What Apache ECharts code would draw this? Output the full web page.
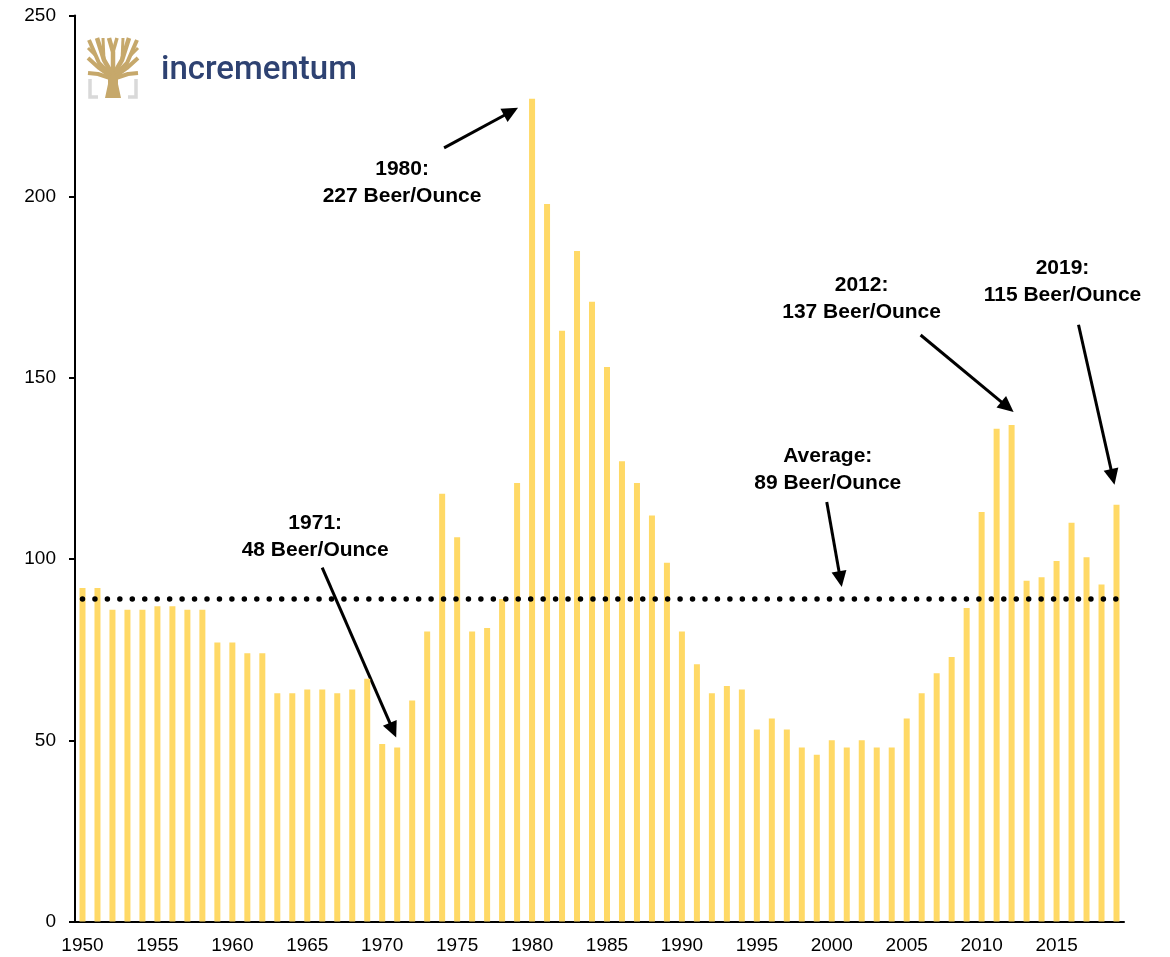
<!DOCTYPE html>
<html>
<head>
<meta charset="utf-8">
<script src="https://cdn.jsdelivr.net/npm/echarts@6/dist/echarts.min.js"></script>
<style>
  html, body { margin: 0; padding: 0; background: #ffffff; }
  #chart { width: 1170px; height: 957px; }
</style>
</head>
<body>
<div id="chart"></div>
<script>
// Beer/gold ratio: how many beers one ounce of gold buys, 1950-2019
const years = [
  '1950','1951','1952','1953','1954','1955','1956','1957','1958','1959',
  '1960','1961','1962','1963','1964','1965','1966','1967','1968','1969',
  '1970','1971','1972','1973','1974','1975','1976','1977','1978','1979',
  '1980','1981','1982','1983','1984','1985','1986','1987','1988','1989',
  '1990','1991','1992','1993','1994','1995','1996','1997','1998','1999',
  '2000','2001','2002','2003','2004','2005','2006','2007','2008','2009',
  '2010','2011','2012','2013','2014','2015','2016','2017','2018','2019'
];
const beerPerOunce = [
  92, 92, 86, 86, 86, 87, 87, 86, 86, 77,
  77, 74, 74, 63, 63, 64, 64, 63, 64, 67,
  49, 48, 61, 80, 118, 106, 80, 81, 89, 121,
  227, 198, 163, 185, 171, 153, 127, 121, 112, 99,
  80, 71, 63, 65, 64, 53, 56, 53, 48, 46,
  50, 48, 50, 48, 48, 56, 63, 68.5, 73, 86.5,
  113, 136, 137, 94, 95, 99.5, 110, 100.5, 93, 115
];
const average = 89;
const yTicks = [0, 50, 100, 150, 200, 250];

// Callouts: which point they refer to and what they say
const noteYears  = ['1980', '1971', '2001', '2012', '2019'];
const noteValues = [227, 48, average, 137, 115];
const noteTexts  = [
  '1980:\n227 Beer/Ounce',
  '1971:\n48 Beer/Ounce',
  'Average:\n89 Beer/Ounce',
  '2012:\n137 Beer/Ounce',
  '2019:\n115 Beer/Ounce'
];
// Offsets (px) from the referenced point: text centre, arrow tail, arrow tip
const noteLayout = [
  { text: [-130, 84],    tail: [-88, 49],    tip: [-14, 9] },
  { text: [-82, -211],   tail: [-75, -180],  tip: [-1, -10] },
  { text: [-19, -129],   tail: [-20, -97],   tip: [-5, -12] },
  { text: [-150, -126],  tail: [-91, -90],   tip: [2, -13] },
  { text: [-54, -223],   tail: [-38, -180],  tip: [-2, -20] }
];

const FONT = '"Liberation Sans", Arial, Helvetica, sans-serif';
const chart = echarts.init(document.getElementById('chart'), null, { renderer: 'canvas' });

chart.setOption({
  animation: false,
  backgroundColor: '#ffffff',
  grid: { left: 75, right: 46, top: 15.5, bottom: 35.5, containLabel: false },
  xAxis: {
    type: 'category',
    data: years,
    boundaryGap: true,
    axisLine: { show: true, lineStyle: { color: '#000000', width: 2 } },
    axisTick: { show: false },
    axisLabel: {
      interval: (i) => i % 5 === 0,
      color: '#000000',
      fontFamily: FONT,
      fontSize: 19,
      margin: 15
    },
    splitLine: { show: false }
  },
  yAxis: {
    type: 'value',
    min: yTicks[0],
    max: yTicks[yTicks.length - 1],
    interval: yTicks[1] - yTicks[0],
    axisLine: { show: true, lineStyle: { color: '#000000', width: 2 } },
    axisTick: { show: true, inside: false, length: 6, lineStyle: { color: '#000000', width: 2 } },
    axisLabel: { color: '#000000', fontFamily: FONT, fontSize: 19, margin: 19 },
    splitLine: { show: false }
  },
  series: [{
    type: 'bar',
    data: beerPerOunce,
    barWidth: 6,
    itemStyle: { color: '#FFD966' },
    silent: true,
    markLine: {
      silent: true,
      symbol: ['none', 'none'],
      label: { show: false },
      lineStyle: { color: '#000000', width: 5.5, type: [0, 12.45], cap: 'round' },
      data: [[
        { coord: [0, average] },
        { coord: [years.length - 1, average] }
      ]]
    }
  }]
});

// Arrow from tail to tip with a filled head
function arrow(tail, tip) {
  const dx = tip[0] - tail[0], dy = tip[1] - tail[1];
  const len = Math.sqrt(dx * dx + dy * dy);
  const ux = dx / len, uy = dy / len;
  const headLen = 16, headHalf = 7.5;
  const base = [tip[0] - ux * headLen, tip[1] - uy * headLen];
  return [
    {
      type: 'line', silent: true,
      shape: { x1: tail[0], y1: tail[1], x2: base[0] + ux * 2, y2: base[1] + uy * 2 },
      style: { stroke: '#000000', lineWidth: 3 }
    },
    {
      type: 'polygon', silent: true,
      shape: { points: [
        tip,
        [base[0] - uy * headHalf, base[1] + ux * headHalf],
        [base[0] + uy * headHalf, base[1] - ux * headHalf]
      ] },
      style: { fill: '#000000' }
    }
  ];
}

// Incrementum logo: gold tree with grey corner brackets, and the word mark
function logo() {
  const gold = '#C6A86B';
  const grey = '#D9D9D9';
  const branch = (pts, w) => ({
    type: 'polyline', silent: true,
    shape: { points: pts },
    style: { stroke: gold, lineWidth: w || 3.5, fill: null, lineCap: 'butt', lineJoin: 'round' }
  });
  return [
    { type: 'polyline', silent: true, shape: { points: [[90, 79], [90, 97], [98, 97]] },
      style: { stroke: grey, lineWidth: 3.5, fill: null } },
    { type: 'polyline', silent: true, shape: { points: [[136, 79], [136, 97], [128, 97]] },
      style: { stroke: grey, lineWidth: 3.5, fill: null } },
    { type: 'polygon', silent: true,
      shape: { points: [[105, 98], [121, 98], [118, 84], [118, 70], [108, 70], [108, 84]] },
      style: { fill: gold } },
    // inner fan
    branch([[111, 72], [104, 60], [97, 38]], 4.5),
    branch([[113, 72], [113, 52], [109, 38]], 4.5),
    branch([[113, 52], [117, 38]], 3.5),
    branch([[115, 72], [122, 60], [129, 38]], 4.5),
    // outer fan
    branch([[110, 74], [99, 63], [89, 40]], 4),
    branch([[116, 74], [127, 63], [137, 40]], 4),
    branch([[104, 60], [103, 38]], 3),
    branch([[122, 60], [123, 38]], 3),
    // side limbs
    branch([[110, 76], [99, 68], [88, 58]], 4),
    branch([[116, 76], [127, 68], [138, 58]], 4),
    branch([[110, 78], [98, 74], [88, 73]], 4),
    branch([[116, 78], [128, 74], [138, 73]], 4),
    branch([[95, 55], [88, 48]], 3),
    branch([[131, 55], [138, 48]], 3),
    {
      type: 'text', silent: true, x: 161, y: 71,
      style: {
        text: 'incrementum',
        font: '500 33px Roboto, "Noto Sans", sans-serif',
        fill: '#2E4272',
        textAlign: 'left',
        textVerticalAlign: 'middle'
      }
    }
  ];
}

function drawNotes() {
  let els = logo();
  noteYears.forEach((yr, i) => {
    const p = chart.convertToPixel({ gridIndex: 0 }, [years.indexOf(yr), noteValues[i]]);
    const L = noteLayout[i];
    const at = (o) => [p[0] + o[0], p[1] + o[1]];
    const t = at(L.text);
    els.push({
      type: 'text', silent: true, x: t[0], y: t[1],
      style: {
        text: noteTexts[i],
        font: 'bold 21px ' + FONT,
        fill: '#000000',
        textAlign: 'center',
        textVerticalAlign: 'middle',
        lineHeight: 27
      }
    });
    els = els.concat(arrow(at(L.tail), at(L.tip)));
  });
  chart.setOption({ graphic: { elements: els } });
}
drawNotes();
</script>
</body>
</html>
